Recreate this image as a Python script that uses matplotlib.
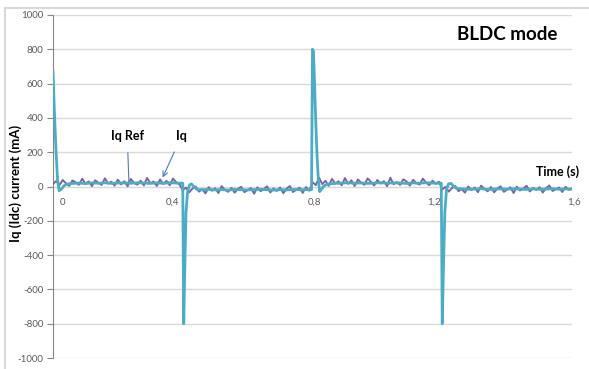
import matplotlib.pyplot as plt
from matplotlib.lines import Line2D
import numpy as np

# Iq reference: sampled every 10 ms, one list per 0.4 s interval
ref_seg1 = [15, 32, 8, 38, 18, 4, 35, 24, 10, 45, 16, 30, 2, 36, 22, 9, 48, 17, 28, 5,
            40, 12, 31, 1, 44, 20, 11, 34, 6, 50, 19, 29, 3, 41, 14, 33, 7, 46, 25, 12]
ref_seg2 = [-22, -6, -34, -12, 0, -30, -16, -40, -4, -25, -10, -38, 2, -20, -31, -8, -36, -14, -2, -33,
            -21, -9, -42, -5, -27, -15, 1, -35, -11, -26, -6, -39, -13, 3, -32, -19, -7, -37, -3, -24]
ref_seg3 = [25, 8, 52, 14, 33, 4, 44, 18, 30, 7, 49, 15, 36, 3, 41, 22, 10, 47, 27, 6,
            38, 17, 31, 2, 51, 13, 26, 9, 42, 29, 5, 39, 20, 11, 46, 23, 8, 34, 16, 28]
ref_seg4 = [-18, -2, -30, -9, 3, -27, -15, -36, 0, -21, -6, -33, 5, -14, -28, -3, -34, -11, 1, -31,
            -19, -5, -38, -1, -23, -12, 4, -29, -8, -20, -4, -35, -10, 6, -26, -16, -6, -32, -2, -19, -12]
iq_ref = ref_seg1 + ref_seg2 + ref_seg3 + ref_seg4
t_ref = np.arange(len(iq_ref)) * 0.01

# measured Iq with the start-up and reversal transients
t_iq = [0.000, 0.004, 0.009, 0.014, 0.019, 0.026, 0.034, 0.045,
        0.06, 0.08, 0.10, 0.12, 0.14, 0.16, 0.18, 0.20, 0.22, 0.24, 0.26, 0.28, 0.30, 0.32, 0.34, 0.36, 0.38, 0.39,
        0.400, 0.403, 0.406, 0.410, 0.415, 0.421, 0.427, 0.436, 0.445,
        0.46, 0.48, 0.50, 0.52, 0.54, 0.56, 0.58, 0.60, 0.62, 0.64, 0.66, 0.68, 0.70, 0.72, 0.74, 0.76, 0.78, 0.79,
        0.797, 0.800, 0.803, 0.806, 0.810, 0.814, 0.818, 0.822, 0.828, 0.836, 0.85,
        0.87, 0.89, 0.91, 0.93, 0.95, 0.97, 0.99, 1.01, 1.03, 1.05, 1.07, 1.09, 1.11, 1.13, 1.15, 1.17, 1.19,
        1.197, 1.200, 1.204, 1.208, 1.213, 1.219, 1.227, 1.236, 1.245,
        1.26, 1.28, 1.30, 1.32, 1.34, 1.36, 1.38, 1.40, 1.42, 1.44, 1.46, 1.48, 1.50, 1.52, 1.54, 1.56, 1.58, 1.60]
iq = [670, 450, 220, 40, -25, -15, 5, 15,
      18, 20, 17, 21, 19, 22, 18, 20, 21, 19, 22, 20, 18, 21, 19, 22, 20, 19,
      20, -800, -500, -150, -30, 10, 15, -5, -18,
      -19, -17, -20, -18, -21, -17, -19, -20, -18, -16, -19, -21, -18, -20, -17, -19, -18, -19,
      -18, 800, 790, 620, 380, 180, 40, -30, -15, 5, 15,
      18, 20, 22, 19, 21, 18, 20, 22, 19, 21, 20, 18, 21, 19, 22, 20, 19,
      20, -800, -450, -150, -20, 15, 18, 0, -12,
      -14, -16, -15, -13, -17, -15, -14, -16, -13, -15, -17, -14, -16, -15, -13, -16, -14, -15]

x_ticks = [0, 0.4, 0.8, 1.2, 1.6]
x_labels = ['0', '0,4', '0,8', '1,2', '1,6']
y_ticks = [-1000, -800, -600, -400, -200, 0, 200, 400, 600, 800, 1000]

plt.rcParams['font.family'] = ['Lato', 'DejaVu Sans']
W, H = 589, 369
fig = plt.figure(figsize=(W / 100, H / 100), dpi=100)
ax = fig.add_axes([53 / W, 11 / H, (572 - 53) / W, (354 - 11) / H])

ax.plot(t_ref, iq_ref, color='#8064a2', lw=1.4, zorder=3)
ax.plot(t_iq, iq, color='#4bacc6', lw=2.0, zorder=4)

ax.set_xlim(0, 1.6)
ax.set_ylim(-1000, 1000)
ax.set_yticks(y_ticks)
ax.set_yticklabels([str(v) for v in y_ticks])
ax.grid(axis='y', color='#d9d9d9', lw=1)
ax.set_axisbelow(True)
for s in ['top', 'right', 'bottom']:
    ax.spines[s].set_visible(False)
ax.spines['left'].set_color('#868686')
ax.spines['left'].set_linewidth(0.8)
ax.tick_params(axis='y', length=4, width=0.8, color='#868686', labelsize=7, labelcolor='#595959', pad=3)
ax.set_xticks([])

# x tick labels sit just under the zero line
label_shift = [9, -10, 2, -8, 2]
for xv, lab, dx in zip(x_ticks, x_labels, label_shift):
    ax.annotate(lab, (xv, 0), xytext=(dx, -16), textcoords='offset pixels',
                ha='center', va='center', fontsize=7, color='#595959', annotation_clip=False)

ax.set_ylabel('Iq (Idc) current (mA)', fontsize=9.5, fontweight='bold')
ax.yaxis.set_label_coords(-31 / 519, 0.51)
ax.text(1.4, 886, 'BLDC mode', fontsize=13.5, fontweight='bold', ha='center', va='center')
ax.text(1.557, 87, 'Time (s)', fontsize=9, fontweight='bold', ha='center', va='center', clip_on=False)

ax.annotate('Iq Ref', xy=(0.234, 23), xytext=(0.229, 297), fontsize=9, fontweight='bold',
            ha='center', va='center',
            arrowprops=dict(arrowstyle='-', color='#4a7ebb', lw=0.8, shrinkA=6, shrinkB=0))
ax.annotate('Iq', xy=(0.338, 52), xytext=(0.397, 297), fontsize=9, fontweight='bold',
            ha='center', va='center',
            arrowprops=dict(arrowstyle='->', color='#4a7ebb', lw=0.8, shrinkA=6, shrinkB=0))

# outer chart frame (left and top edges)
fig.add_artist(Line2D([5 / W, 5 / W], [0, 1 - 8 / H], color='#d9d9d9', lw=1.5))
fig.add_artist(Line2D([5 / W, 1], [1 - 8 / H, 1 - 8 / H], color='#d9d9d9', lw=1.5))

fig.savefig('out.png', dpi=100)
